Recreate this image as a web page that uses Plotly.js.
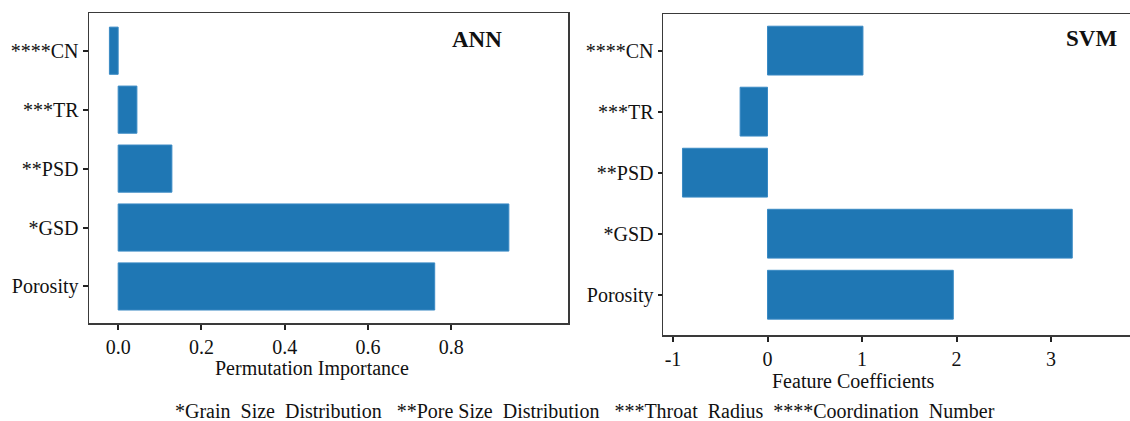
<!DOCTYPE html>
<html>
<head>
<meta charset="utf-8">
<script src="https://cdn.plot.ly/plotly-3.0.1.min.js"></script>
<style>
  html, body { margin: 0; padding: 0; background: #ffffff; }
  #chart { width: 1130px; height: 421px; }
</style>
</head>
<body>
<div id="chart"></div>
<script>
// ---- data ----
const categories = ['Porosity', 'GSD', 'PSD', 'TR', 'CN'];
const stars = ['', '*', '**', '***', '****'];
const annImportance = [0.76, 0.938, 0.129, 0.045, -0.021];
const svmCoefficients = [1.966, 3.225, -0.90, -0.29, 1.01];
const annTicks = [0, 0.2, 0.4, 0.6, 0.8];
const annTickLabels = ['0.0', '0.2', '0.4', '0.6', '0.8'];
const svmTicks = [-1, 0, 1, 2, 3];
const svmTickLabels = ['-1', '0', '1', '2', '3'];
const footnote = '*Grain  Size  Distribution   **Pore Size  Distribution   ***Throat  Radius  ****Coordination  Number';

const tickText = categories.map((c, i) => stars[i] + c);

const W = 1130, H = 421;
const px = v => v / W;
const py = v => (H - v) / H;

const serif = '"Liberation Serif", "Times New Roman", serif';
const barColor = '#1f77b4';
const lineColor = '#3a3a3a';
const textColor = '#111111';

const traces = [
  {
    type: 'bar', orientation: 'h',
    x: annImportance, y: categories,
    xaxis: 'x', yaxis: 'y',
    width: 0.8,
    marker: { color: barColor, line: { color: '#3a8ac4', width: 1 } },
    hoverinfo: 'x+y'
  },
  {
    type: 'bar', orientation: 'h',
    x: svmCoefficients, y: categories,
    xaxis: 'x2', yaxis: 'y2',
    width: 0.8,
    marker: { color: barColor, line: { color: '#3a8ac4', width: 1 } },
    hoverinfo: 'x+y'
  }
];

const tickFont = { family: serif, size: 20, color: textColor };

const layout = {
  width: W, height: H,
  margin: { l: 0, r: 0, t: 0, b: 0 },
  paper_bgcolor: '#ffffff',
  plot_bgcolor: '#ffffff',
  showlegend: false,
  xaxis: {
    domain: [px(89), px(568)],
    anchor: 'y',
    range: [-0.07, 1.08],
    tickvals: annTicks, ticktext: annTickLabels,
    showgrid: false, zeroline: false,
    showline: true, mirror: true, linecolor: lineColor, linewidth: 1.5,
    ticks: 'outside', ticklen: 5, tickwidth: 2, tickcolor: '#222',
    tickfont: tickFont
  },
  yaxis: {
    domain: [py(323), py(13)],
    anchor: 'x',
    type: 'category',
    categoryorder: 'array', categoryarray: categories,
    range: [-0.62, 4.64],
    tickvals: categories, ticktext: tickText,
    showgrid: false, zeroline: false,
    showline: true, mirror: true, linecolor: lineColor, linewidth: 1.5,
    ticks: 'outside', ticklen: 5, tickwidth: 2, tickcolor: '#222',
    tickfont: tickFont
  },
  xaxis2: {
    domain: [px(663), 1],
    anchor: 'y2',
    range: [-1.106, 3.836],
    tickvals: svmTicks, ticktext: svmTickLabels,
    showgrid: false, zeroline: false,
    showline: true, mirror: true, linecolor: lineColor, linewidth: 1.5,
    ticks: 'outside', ticklen: 5, tickwidth: 2, tickcolor: '#222',
    tickfont: tickFont
  },
  yaxis2: {
    domain: [py(335), py(14)],
    anchor: 'x2',
    type: 'category',
    categoryorder: 'array', categoryarray: categories,
    range: [-0.66, 4.6],
    tickvals: categories, ticktext: tickText,
    showgrid: false, zeroline: false,
    showline: true, mirror: false, linecolor: lineColor, linewidth: 1.5,
    ticks: 'outside', ticklen: 4, tickwidth: 2, tickcolor: '#222',
    tickfont: tickFont
  },
  annotations: [
    { text: '<b>ANN</b>', xref: 'paper', yref: 'paper', x: px(477), y: py(40),
      xanchor: 'center', yanchor: 'middle', showarrow: false,
      font: { family: serif, size: 23, color: textColor } },
    { text: '<b>SVM</b>', xref: 'paper', yref: 'paper', x: px(1091), y: py(39),
      xanchor: 'center', yanchor: 'middle', showarrow: false,
      font: { family: serif, size: 23, color: textColor } },
    { text: 'Permutation Importance', xref: 'paper', yref: 'paper', x: px(312), y: py(368),
      xanchor: 'center', yanchor: 'middle', showarrow: false,
      font: { family: serif, size: 20, color: textColor } },
    { text: 'Feature Coefficients', xref: 'paper', yref: 'paper', x: px(853), y: py(381),
      xanchor: 'center', yanchor: 'middle', showarrow: false,
      font: { family: serif, size: 20, color: textColor } },
    { text: footnote, xref: 'paper', yref: 'paper', x: px(585), y: py(411),
      xanchor: 'center', yanchor: 'middle', showarrow: false,
      font: { family: serif, size: 20, color: textColor } }
  ]
};

Plotly.newPlot('chart', traces, layout, { displayModeBar: false, staticPlot: true });
</script>
</body>
</html>
